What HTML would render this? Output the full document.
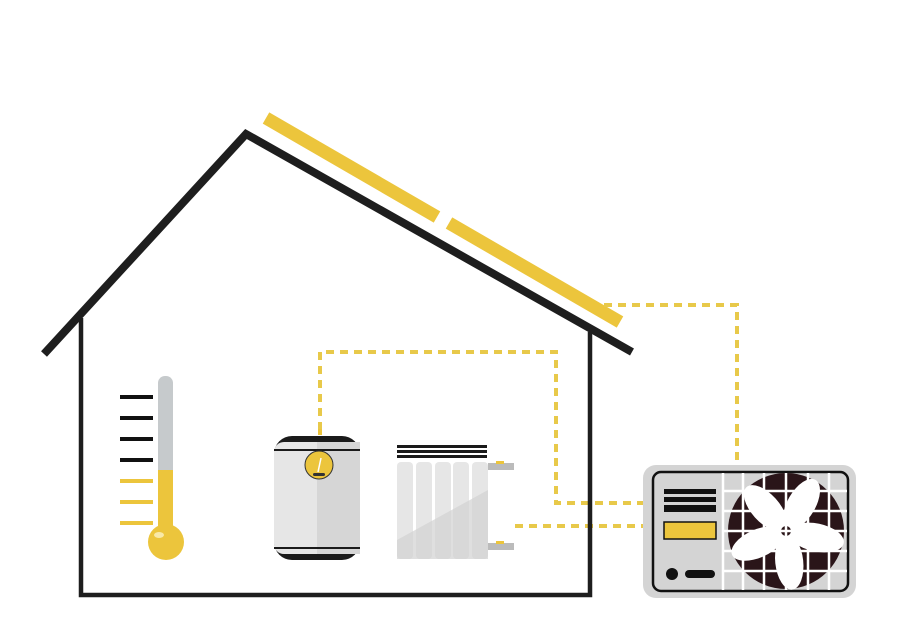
<!DOCTYPE html>
<html><head><meta charset="utf-8"><style>html,body{margin:0;padding:0;background:#fff}svg{display:block}</style></head>
<body>
<svg width="897" height="628" viewBox="0 0 897 628" xmlns="http://www.w3.org/2000/svg">
<!-- solar panels -->
<line x1="266" y1="118" x2="437" y2="217" stroke="#ecc53c" stroke-width="13"/>
<line x1="449" y1="223" x2="620" y2="322" stroke="#ecc53c" stroke-width="13"/>
<!-- dashed pipes -->
<g fill="none" stroke="#e8c94a" stroke-width="4" stroke-dasharray="8,6">
<polyline points="604,305 737,305 737,462"/>
<polyline points="320,430 320,352 556,352 556,503 643,503"/>
<polyline points="515,526 643,526"/>
</g>
<!-- house -->
<polyline points="44,354 246,134 632,352" fill="none" stroke="#1e1e1e" stroke-width="8"/>
<polyline points="81,318 81,595 590,595 590,332" fill="none" stroke="#1e1e1e" stroke-width="4.5"/>
<!-- thermometer -->
<g stroke-width="4">
<line x1="120" y1="397" x2="153" y2="397" stroke="#111"/>
<line x1="120" y1="418" x2="153" y2="418" stroke="#111"/>
<line x1="120" y1="439" x2="153" y2="439" stroke="#111"/>
<line x1="120" y1="460" x2="153" y2="460" stroke="#111"/>
<line x1="120" y1="481" x2="153" y2="481" stroke="#ecc53c"/>
<line x1="120" y1="502" x2="153" y2="502" stroke="#ecc53c"/>
<line x1="120" y1="523" x2="153" y2="523" stroke="#ecc53c"/>
</g>
<rect x="158" y="376" width="15" height="160" rx="7" fill="#c6cacc"/>
<rect x="158" y="470" width="15" height="70" fill="#ecc53c"/>
<circle cx="166" cy="542" r="18" fill="#ecc53c"/>
<ellipse cx="159" cy="535" rx="5" ry="3" fill="#f8e9a8"/>
<!-- tank -->
<rect x="274" y="436" width="86" height="124" rx="18" fill="#1a1a1a"/>
<rect x="274" y="442" width="86" height="112" rx="10" fill="#e6e6e6"/>
<rect x="317" y="442" width="43" height="112" fill="#d6d6d6"/>
<line x1="274" y1="450" x2="360" y2="450" stroke="#1a1a1a" stroke-width="2"/>
<line x1="274" y1="548" x2="360" y2="548" stroke="#1a1a1a" stroke-width="2"/>
<rect x="318" y="429" width="4" height="6" fill="#ecc53c"/>
<circle cx="319" cy="465" r="14" fill="#ecc53c" stroke="#333" stroke-width="1"/>
<rect x="313" y="473" width="12" height="3" rx="1.5" fill="#333"/>
<line x1="321" y1="458" x2="318" y2="472" stroke="#fff" stroke-width="1.5"/>
<!-- radiator -->
<g fill="#1a1a1a">
<rect x="397" y="445" width="90" height="3"/><rect x="397" y="450" width="90" height="3"/><rect x="397" y="455" width="90" height="3"/>
</g>
<g fill="#e6e6e6">
<rect x="397" y="462" width="16" height="97" rx="4"/>
<rect x="416" y="462" width="16" height="97" rx="4"/>
<rect x="435" y="462" width="16" height="97" rx="4"/>
<rect x="453" y="462" width="16" height="97" rx="4"/>
<rect x="472" y="462" width="16" height="97" rx="4"/>
</g>
<polygon points="397,540 488,490 488,559 397,559" fill="#d2d2d2" opacity="0.7"/>
<rect x="488" y="463" width="26" height="7" fill="#bbb"/>
<rect x="488" y="543" width="26" height="7" fill="#bbb"/>
<rect x="496" y="461" width="8" height="3" fill="#ecc53c"/>
<rect x="496" y="541" width="8" height="3" fill="#ecc53c"/>
<!-- heat pump -->
<rect x="643" y="465" width="213" height="133" rx="13" fill="#d4d4d4"/>
<rect x="653" y="472" width="195" height="119" rx="8" fill="#d4d4d4" stroke="#111" stroke-width="2.5"/>
<circle cx="786" cy="531" r="58" fill="#2a1519"/>
<g fill="#fff">
<ellipse cx="786" cy="500" rx="14" ry="28" transform="rotate(30 786 531)"/>
<ellipse cx="786" cy="500" rx="14" ry="28" transform="rotate(102 786 531)"/>
<ellipse cx="786" cy="500" rx="14" ry="28" transform="rotate(174 786 531)"/>
<ellipse cx="786" cy="500" rx="14" ry="28" transform="rotate(246 786 531)"/>
<ellipse cx="786" cy="500" rx="14" ry="28" transform="rotate(318 786 531)"/>
</g>
<circle cx="786" cy="531" r="5" fill="#2a1519"/>
<g stroke="#fff" stroke-width="2.5">
<line x1="723" y1="473" x2="723" y2="590"/><line x1="743" y1="473" x2="743" y2="590"/><line x1="764" y1="473" x2="764" y2="590"/><line x1="786" y1="473" x2="786" y2="590"/><line x1="808" y1="473" x2="808" y2="590"/><line x1="829" y1="473" x2="829" y2="590"/>
<line x1="723" y1="491" x2="847" y2="491"/><line x1="723" y1="511" x2="847" y2="511"/><line x1="723" y1="531" x2="847" y2="531"/><line x1="723" y1="551" x2="847" y2="551"/><line x1="723" y1="571" x2="847" y2="571"/>
</g>
<rect x="664" y="489" width="52" height="5" fill="#111"/>
<rect x="664" y="497" width="52" height="5" fill="#111"/>
<rect x="664" y="505" width="52" height="7" fill="#111"/>
<rect x="664" y="522" width="52" height="17" fill="#ecc53c" stroke="#111" stroke-width="1.5"/>
<circle cx="672" cy="574" r="6" fill="#111"/>
<rect x="685" y="570" width="30" height="8" rx="4" fill="#111"/>
</svg>
</body></html>
